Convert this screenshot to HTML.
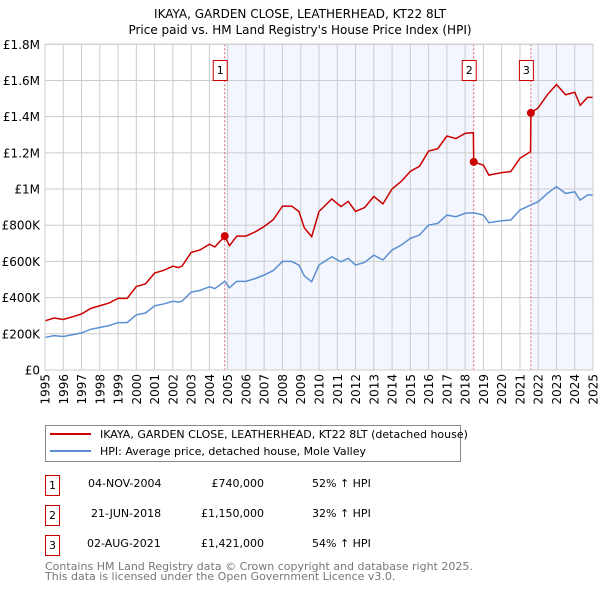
<!DOCTYPE html>
<html><head><meta charset="utf-8"><style>
body{margin:0;background:#fff;}
svg text{font-family:"DejaVu Sans","Liberation Sans",sans-serif;}
</style></head><body>
<svg id="c" width="600" height="590" xmlns="http://www.w3.org/2000/svg">
<text x="300" y="18" text-anchor="middle" font-size="12">IKAYA, GARDEN CLOSE, LEATHERHEAD, KT22 8LT</text>
<text x="300" y="34" text-anchor="middle" font-size="12">Price paid vs. HM Land Registry's House Price Index (HPI)</text>
<g id="plot"></g>
<g>
<rect x="45.5" y="425.5" width="415" height="36" fill="#fff" stroke="#888"/>
<line x1="50" y1="434" x2="91" y2="434" stroke="#cc0000" stroke-width="2"/>
<text x="100" y="438" font-size="11">IKAYA, GARDEN CLOSE, LEATHERHEAD, KT22 8LT (detached house)</text>
<line x1="50" y1="451" x2="91" y2="451" stroke="#5b8fd1" stroke-width="2"/>
<text x="100" y="455" font-size="11">HPI: Average price, detached house, Mole Valley</text>
</g>
<g font-size="11">
<rect x="45.5" y="475.5" width="14" height="20" fill="#fff" stroke="#cc0000"/>
<text x="52.5" y="489" text-anchor="middle">1</text>
<text x="88" y="487">04-NOV-2004</text>
<text x="264" y="487" text-anchor="end">£740,000</text>
<text x="312" y="487">52% ↑ HPI</text>
<rect x="45.5" y="505.5" width="14" height="20" fill="#fff" stroke="#cc0000"/>
<text x="52.5" y="519" text-anchor="middle">2</text>
<text x="91" y="517">21-JUN-2018</text>
<text x="264" y="517" text-anchor="end">£1,150,000</text>
<text x="312" y="517">32% ↑ HPI</text>
<rect x="45.5" y="535.5" width="14" height="20" fill="#fff" stroke="#cc0000"/>
<text x="52.5" y="549" text-anchor="middle">3</text>
<text x="87" y="547">02-AUG-2021</text>
<text x="264" y="547" text-anchor="end">£1,421,000</text>
<text x="312" y="547">54% ↑ HPI</text>
</g>
<text x="45" y="570" font-size="11" fill="#777">Contains HM Land Registry data © Crown copyright and database right 2025.</text>
<text x="45" y="580" font-size="11" fill="#777">This data is licensed under the Open Government Licence v3.0.</text>
</svg>
<script>
const yearTicks=[1995,1996,1997,1998,1999,2000,2001,2002,2003,2004,2005,2006,2007,2008,2009,2010,2011,2012,2013,2014,2015,2016,2017,2018,2019,2020,2021,2022,2023,2024,2025];
const valueTicks=[0,200000,400000,600000,800000,1000000,1200000,1400000,1600000,1800000];
const valueTickLabels=["£0","£200K","£400K","£600K","£800K","£1M","£1.2M","£1.4M","£1.6M","£1.8M"];
const hpiYears=[1995,1995.5,1996,1996.5,1997,1997.5,1998,1998.5,1999,1999.5,2000,2000.5,2001,2001.5,2002,2002.3,2002.5,2003,2003.5,2004,2004.3,2004.84,2005.1,2005.5,2006,2006.5,2007,2007.5,2008,2008.5,2008.9,2009.2,2009.6,2010,2010.7,2011.2,2011.6,2012,2012.5,2013,2013.5,2014,2014.5,2015,2015.5,2016,2016.5,2017,2017.5,2018,2018.47,2019,2019.3,2020,2020.5,2021,2021.6,2022,2022.5,2023,2023.5,2024,2024.3,2024.7,2025];
const hpiValues=[180,190,185,195,205,225,235,245,262,262,305,315,355,365,380,375,380,430,440,460,450,490,455,490,490,505,525,550,600,600,580,520,488,580,626,598,617,580,595,635,608,663,690,727,746,801,810,856,847,866,869,856,814,825,829,884,912,930,976,1013,976,985,939,967,967];
const propYears=[1995,1995.5,1996,1996.5,1997,1997.5,1998,1998.5,1999,1999.5,2000,2000.5,2001,2001.5,2002,2002.3,2002.5,2003,2003.5,2004,2004.3,2004.84,2005.1,2005.5,2006,2006.5,2007,2007.5,2008,2008.5,2008.9,2009.2,2009.6,2010,2010.7,2011.2,2011.6,2012,2012.5,2013,2013.5,2014,2014.5,2015,2015.5,2016,2016.5,2017,2017.5,2018,2018.45,2018.47,2019,2019.3,2020,2020.5,2021,2021.58,2021.6,2022,2022.5,2023,2023.5,2024,2024.3,2024.7,2025];
const propValues=[272,287,279,294,310,340,355,370,396,396,461,476,536,551,574,566,574,649,664,695,680,740,687,740,740,763,793,831,906,906,876,785,737,876,945,903,932,876,898,959,918,1001,1042,1098,1126,1210,1223,1293,1279,1308,1312,1150,1132,1077,1091,1097,1170,1207,1421,1449,1521,1578,1521,1535,1463,1507,1507];
const saleLabels=["1","2","3"];
const saleYears=[2004.84,2018.47,2021.6];
const salePrices=[740000,1150000,1421000];

const NS="http://www.w3.org/2000/svg";
const X0=45,X1=593,Y0=370,Y1=44.3;
const xs=y=>X0+(y-1995)/30*(X1-X0);
const ys=v=>Y0-v/1800000*(Y0-Y1);
const plot=document.getElementById('plot');
function mk(tag,attrs,parent){const e=document.createElementNS(NS,tag);for(const k in attrs)e.setAttribute(k,attrs[k]);(parent||plot).appendChild(e);return e;}
let s1=mk('rect',{x:xs(saleYears[0]),y:Y1,width:xs(saleYears[1])-xs(saleYears[0]),height:Y0-Y1,fill:'#f3f6fe'});


let s2=mk('rect',{x:xs(saleYears[2]),y:Y1,width:X1-xs(saleYears[2]),height:Y0-Y1,fill:'#f3f6fe'});


yearTicks.forEach(y=>{
 let l=mk('line',{x1:xs(y),x2:xs(y),y1:Y1,y2:Y0,stroke:'#ccc','stroke-width':1});
 
 
 let t=mk('text',{x:0,y:0,'font-size':12,'text-anchor':'end',transform:`translate(${xs(y)+4.5},${Y0+4}) rotate(-90)`});
 
 
 t.textContent=y;
});
valueTicks.forEach((v,i)=>{
 let l=mk('line',{x1:X0,x2:X1,y1:ys(v),y2:ys(v),stroke:'#ccc','stroke-width':1});
 
 
 let t=mk('text',{x:40,y:ys(v)+4.5,'font-size':12,'text-anchor':'end'});
 
 
 t.textContent=valueTickLabels[i];
});
saleYears.forEach((y,i)=>{
 let l=mk('line',{x1:xs(y),x2:xs(y),y1:Y1,y2:Y0,stroke:'#e06070','stroke-width':1,'stroke-dasharray':'2,2'});
 
 
 let r=mk('rect',{x:xs(y)-11.5,y:60.5,width:14,height:20,fill:'#fff',stroke:'#cc0000'});
 
 
 let t=mk('text',{x:xs(y)-4.5,y:74,'font-size':11,'text-anchor':'middle'});
 
 
 t.textContent=saleLabels[i];
});
let hp=mk('polyline',{points:hpiYears.map((y,i)=>xs(y)+','+ys(hpiValues[i]*1000)).join(' '),fill:'none',stroke:'#5b8fd1','stroke-width':1.5});


let pp=mk('polyline',{points:propYears.map((y,i)=>xs(y)+','+ys(propValues[i]*1000)).join(' '),fill:'none',stroke:'#cc0000','stroke-width':1.5});


saleYears.forEach((y,i)=>{
 let c=mk('circle',{cx:xs(y),cy:ys(salePrices[i]),r:4,fill:'#cc0000'});
 
 
});
let b=mk('rect',{x:X0,y:Y1,width:X1-X0,height:Y0-Y1,fill:'none',stroke:'#ccc'});


</script>
</body></html>
